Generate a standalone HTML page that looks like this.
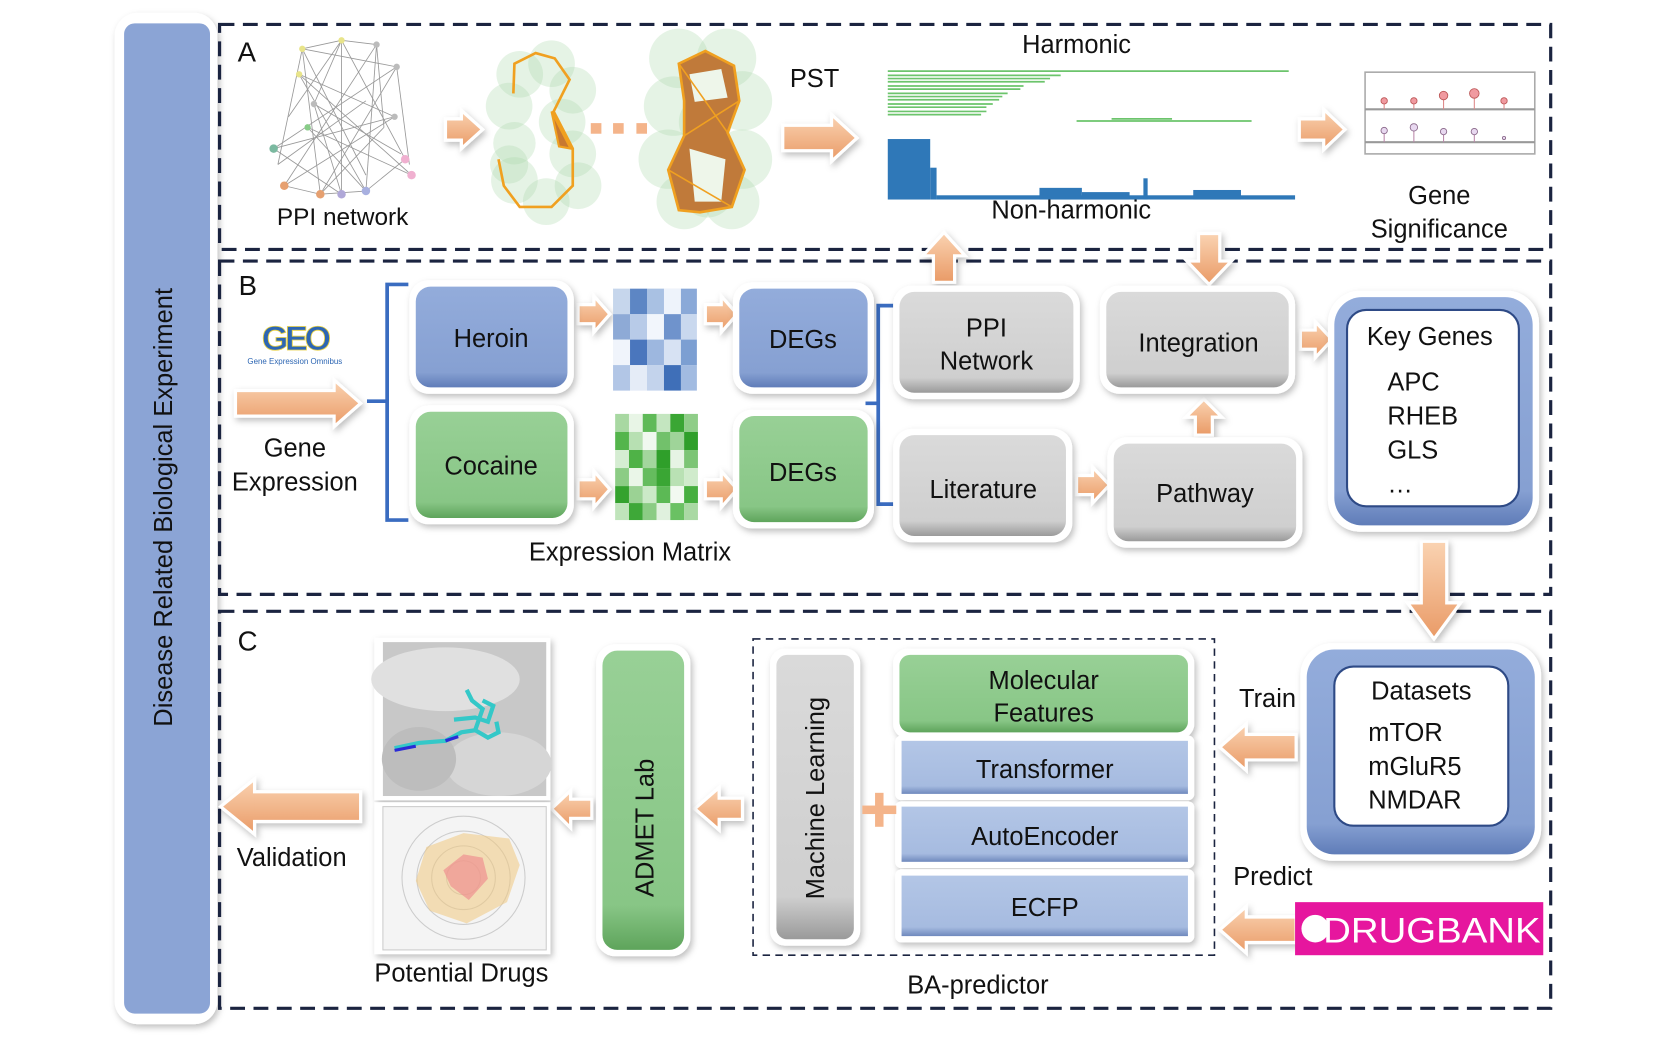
<!DOCTYPE html>
<html><head><meta charset="utf-8"><style>
html,body{margin:0;padding:0;background:#fff;overflow:hidden}
svg{display:block}
text{font-family:"Liberation Sans",Arial,sans-serif;fill:#111}
</style></head><body>
<svg width="1661" height="1038" viewBox="0 0 1566 978" preserveAspectRatio="none" xmlns="http://www.w3.org/2000/svg">
<defs>
<linearGradient id="og" x1="0" y1="0" x2="0" y2="1"><stop offset="0" stop-color="#fad3b2"/><stop offset="1" stop-color="#e99a66"/></linearGradient>
<linearGradient id="bl" x1="0" y1="0" x2="0" y2="1"><stop offset="0" stop-color="#93acdb"/><stop offset="0.85" stop-color="#86a0d2"/><stop offset="1" stop-color="#5f7cb8"/></linearGradient>
<linearGradient id="lb" x1="0" y1="0" x2="0" y2="1"><stop offset="0" stop-color="#b3c6e6"/><stop offset="0.85" stop-color="#a6bbe0"/><stop offset="1" stop-color="#6f89bd"/></linearGradient>
<linearGradient id="gr" x1="0" y1="0" x2="0" y2="1"><stop offset="0" stop-color="#98d096"/><stop offset="0.85" stop-color="#88c686"/><stop offset="1" stop-color="#5ea45b"/></linearGradient>
<linearGradient id="gy" x1="0" y1="0" x2="0" y2="1"><stop offset="0" stop-color="#dadada"/><stop offset="0.85" stop-color="#cfcfcf"/><stop offset="1" stop-color="#9a9a9a"/></linearGradient>
<filter id="sh" x="-10%" y="-10%" width="130%" height="130%"><feDropShadow dx="2" dy="3" stdDeviation="3" flood-color="#000" flood-opacity="0.25"/></filter>
</defs>

<rect x="108" y="12" width="97" height="953" rx="22" fill="#fff" filter="url(#sh)"/>
<rect x="117" y="22" width="81" height="933" rx="10" fill="#8ba4d5"/>
<text transform="translate(162,478) rotate(-90)" text-anchor="middle" font-size="24">Disease Related Biological Experiment</text>

<g fill="none" stroke="#1b2440" stroke-width="3" stroke-dasharray="14 8">
<rect x="207" y="23" width="1255" height="212"/>
<rect x="207" y="246" width="1255" height="314"/>
<rect x="207" y="576" width="1255" height="374"/>
</g>
<rect x="710" y="602" width="435" height="298" fill="none" stroke="#1b2440" stroke-width="1.5" stroke-dasharray="7 5"/>

<text x="224" y="58" font-size="26">A</text>
<g stroke="#999" stroke-width="0.8">
<line x1="285" y1="46" x2="322" y2="38"/><line x1="285" y1="46" x2="374" y2="63"/><line x1="285" y1="46" x2="345" y2="165"/><line x1="285" y1="46" x2="302" y2="183"/><line x1="285" y1="46" x2="262" y2="155"/>
<line x1="322" y1="38" x2="355" y2="42"/><line x1="322" y1="38" x2="272" y2="110"/><line x1="322" y1="38" x2="382" y2="150"/><line x1="322" y1="38" x2="322" y2="183"/><line x1="322" y1="38" x2="296" y2="98"/>
<line x1="355" y1="42" x2="268" y2="175"/><line x1="355" y1="42" x2="362" y2="120"/><line x1="355" y1="42" x2="345" y2="180"/>
<line x1="374" y1="63" x2="258" y2="140"/><line x1="374" y1="63" x2="302" y2="183"/><line x1="374" y1="63" x2="386" y2="155"/>
<line x1="282" y1="70" x2="388" y2="165"/><line x1="282" y1="70" x2="345" y2="180"/><line x1="282" y1="70" x2="372" y2="110"/>
<line x1="296" y1="98" x2="378" y2="145"/><line x1="296" y1="98" x2="322" y2="183"/><line x1="345" y1="95" x2="262" y2="155"/>
<line x1="372" y1="110" x2="258" y2="140"/><line x1="372" y1="110" x2="268" y2="175"/><line x1="362" y1="120" x2="302" y2="183"/>
<line x1="258" y1="140" x2="322" y2="183"/><line x1="268" y1="175" x2="302" y2="183"/><line x1="302" y1="183" x2="345" y2="180"/><line x1="345" y1="180" x2="382" y2="150"/>
<line x1="290" y1="120" x2="388" y2="165"/><line x1="290" y1="120" x2="345" y2="180"/>
</g>
<g>
<circle cx="285" cy="46" r="3" fill="#e8e48a"/><circle cx="322" cy="38" r="3" fill="#e8e48a"/><circle cx="355" cy="42" r="3" fill="#bbb"/><circle cx="374" cy="63" r="3" fill="#bbb"/>
<circle cx="282" cy="70" r="3" fill="#e8e48a"/><circle cx="296" cy="98" r="3" fill="#bbb"/><circle cx="372" cy="110" r="3" fill="#bbb"/><circle cx="290" cy="120" r="3" fill="#8c8"/>
<circle cx="258" cy="140" r="4" fill="#7bb9a0"/><circle cx="268" cy="175" r="4" fill="#e6a070"/><circle cx="302" cy="183" r="4" fill="#e6a070"/><circle cx="322" cy="183" r="4" fill="#b0a8d8"/>
<circle cx="345" cy="180" r="4" fill="#a8b0e0"/><circle cx="382" cy="150" r="4" fill="#f0b0d0"/><circle cx="388" cy="165" r="4" fill="#f0b0d0"/>
</g>
<text x="323" y="212" text-anchor="middle" font-size="23">PPI network</text>

<g fill="#a8d8a8" fill-opacity="0.3">
<circle cx="490" cy="70" r="22"/><circle cx="520" cy="60" r="22"/><circle cx="540" cy="85" r="22"/><circle cx="480" cy="100" r="22"/><circle cx="530" cy="115" r="22"/>
<circle cx="485" cy="135" r="20"/><circle cx="540" cy="145" r="22"/><circle cx="485" cy="170" r="22"/><circle cx="515" cy="190" r="22"/><circle cx="545" cy="175" r="22"/><circle cx="480" cy="155" r="18"/>
</g>
<g fill="none" stroke="#f0a020" stroke-width="2.5">
<polyline points="484,88 485,60 505,50 523,55 537,75 522,105 540,140 540,175 520,195 490,195 475,175 470,150"/>
</g>
<polygon points="520,105 538,140 527,138" fill="#c87830" stroke="#f0a020" stroke-width="2"/>
<g fill="#f4b48a"><rect x="557" y="116" width="10" height="10"/><rect x="578" y="116" width="10" height="10"/><rect x="600" y="116" width="10" height="10"/></g>
<g fill="#a8d8a8" fill-opacity="0.3">
<circle cx="640" cy="55" r="28"/><circle cx="685" cy="55" r="28"/><circle cx="700" cy="95" r="28"/><circle cx="635" cy="100" r="28"/><circle cx="665" cy="115" r="25"/>
<circle cx="630" cy="150" r="28"/><circle cx="700" cy="150" r="28"/><circle cx="645" cy="190" r="26"/><circle cx="690" cy="190" r="26"/><circle cx="667" cy="180" r="25"/>
</g>
<g stroke="#f0a020" stroke-width="2.5" fill="#c07a3a">
<polygon points="640,60 665,48 692,62 697,95 686,125 702,160 690,195 660,200 640,198 630,160 645,128 645,95"/>
</g>
<polygon points="650,70 680,65 686,92 655,96" fill="#eef6ea"/>
<polygon points="650,140 684,150 680,190 655,190" fill="#eef6ea"/>
<g stroke="#f0a020" stroke-width="1.5" fill="none"><line x1="640" y1="60" x2="686" y2="125"/><line x1="645" y1="128" x2="697" y2="95"/><line x1="630" y1="160" x2="690" y2="195"/></g>

<g fill="url(#og)" stroke="#fff" stroke-width="3" filter="url(#sh)">
<polygon points="420,112 435,112 435,104 455,122 435,140 435,132 420,132"/>
<polygon points="738,118 784,118 784,108 808,130 784,152 784,142 738,142"/>
<polygon points="1225,112 1248,112 1248,103 1268,122 1248,141 1248,132 1225,132"/>
<polygon points="222,368 315,368 315,358 340,380 315,402 315,392 222,392"/>
<polygon points="545,287 560,287 560,279 575,296 560,313 560,305 545,305"/>
<polygon points="545,452 560,452 560,444 575,461 560,478 560,470 545,470"/>
<polygon points="665,287 680,287 680,279 695,296 680,313 680,305 665,305"/>
<polygon points="665,452 680,452 680,444 695,461 680,478 680,470 665,470"/>
<polygon points="1015,448 1030,448 1030,440 1046,457 1030,474 1030,466 1015,466"/>
<polygon points="1226,311 1240,311 1240,303 1256,320 1240,337 1240,329 1226,329"/>
<polygon points="880,266 880,241 870,241 890,219 910,241 900,241 900,266"/>
<polygon points="1130,220 1150,220 1150,246 1161,246 1140,268 1119,246 1130,246"/>
<polygon points="1127,410 1127,393 1118,393 1135,376 1152,393 1143,393 1143,410"/>
<polygon points="1340,510 1364,510 1364,568 1377,568 1352,602 1327,568 1340,568"/>
<polygon points="1222,692 1175,692 1175,682 1150,704 1175,726 1175,716 1222,716"/>
<polygon points="1222,864 1175,864 1175,854 1150,876 1175,898 1175,888 1222,888"/>
<polygon points="700,752 678,752 678,742 655,762 678,782 678,772 700,772"/>
<polygon points="558,753 538,753 538,745 520,762 538,780 538,771 558,771"/>
<polygon points="340,746 240,746 240,734 208,760 240,786 240,774 340,774"/>
</g>

<text x="768" y="82" text-anchor="middle" font-size="24">PST</text>
<text x="1015" y="50" text-anchor="middle" font-size="24">Harmonic</text>
<g stroke="#6cc46c" stroke-width="1.6">
<line x1="837" y1="67" x2="1215" y2="67"/>
<line x1="837" y1="71" x2="1000" y2="71"/><line x1="837" y1="74" x2="990" y2="74"/><line x1="837" y1="77" x2="985" y2="77"/>
<line x1="837" y1="81" x2="965" y2="81"/><line x1="837" y1="84" x2="962" y2="84"/><line x1="837" y1="88" x2="950" y2="88"/>
<line x1="837" y1="91" x2="945" y2="91"/><line x1="837" y1="94" x2="942" y2="94"/><line x1="837" y1="98" x2="936" y2="98"/>
<line x1="837" y1="101" x2="930" y2="101"/><line x1="837" y1="105" x2="930" y2="105"/><line x1="837" y1="108" x2="925" y2="108"/>
<line x1="1015" y1="114" x2="1180" y2="114"/><line x1="1048" y1="112" x2="1105" y2="112"/>
</g>
<g fill="#2f78b8">
<rect x="837" y="131" width="40" height="57"/><rect x="877" y="158" width="6" height="30"/>
<rect x="883" y="184" width="338" height="4"/><rect x="980" y="177" width="40" height="11"/><rect x="1020" y="181" width="45" height="7"/>
<rect x="1078" y="168" width="4" height="20"/><rect x="1125" y="179" width="45" height="9"/>
</g>
<text x="1010" y="206" text-anchor="middle" font-size="24">Non-harmonic</text>

<rect x="1287" y="68" width="160" height="77" fill="#fff" stroke="#aaa" stroke-width="1.5"/>
<line x1="1287" y1="103" x2="1447" y2="103" stroke="#999" stroke-width="2"/>
<line x1="1287" y1="134" x2="1447" y2="134" stroke="#999" stroke-width="2"/>
<g stroke="#d88" stroke-width="1"><line x1="1305" y1="95" x2="1305" y2="103"/><line x1="1333" y1="95" x2="1333" y2="103"/><line x1="1361" y1="90" x2="1361" y2="103"/><line x1="1390" y1="88" x2="1390" y2="103"/><line x1="1418" y1="95" x2="1418" y2="103"/></g>
<g fill="#f09aa0" stroke="#b55" stroke-width="0.8"><circle cx="1305" cy="95" r="3"/><circle cx="1333" cy="95" r="3"/><circle cx="1361" cy="90" r="4"/><circle cx="1390" cy="88" r="4.5"/><circle cx="1418" cy="95" r="3"/></g>
<g stroke="#b8a" stroke-width="1"><line x1="1305" y1="123" x2="1305" y2="134"/><line x1="1333" y1="120" x2="1333" y2="134"/><line x1="1361" y1="124" x2="1361" y2="134"/><line x1="1390" y1="124" x2="1390" y2="134"/></g>
<g fill="#e8d8f0" stroke="#868" stroke-width="0.8"><circle cx="1305" cy="123" r="3"/><circle cx="1333" cy="120" r="3.5"/><circle cx="1361" cy="124" r="3"/><circle cx="1390" cy="124" r="3"/><circle cx="1418" cy="130" r="1.5"/></g>
<text x="1357" y="192" text-anchor="middle" font-size="24">Gene</text>
<text x="1357" y="224" text-anchor="middle" font-size="24">Significance</text>

<text x="225" y="278" font-size="26">B</text>
<text x="278" y="330" text-anchor="middle" font-size="32" font-weight="bold" style="fill:#2d66b3" stroke="#e8d040" stroke-width="0.8" letter-spacing="-3">GEO</text>
<text x="278" y="343" text-anchor="middle" font-size="7.5" style="fill:#2d66b3">Gene Expression Omnibus</text>
<text x="278" y="430" text-anchor="middle" font-size="24">Gene</text>
<text x="278" y="462" text-anchor="middle" font-size="24">Expression</text>
<path d="M385,268 L365,268 L365,378 L346,378 L365,378 L365,490 L385,490" fill="none" stroke="#3a6cc0" stroke-width="3.5"/>
<path d="M845,288 L828,288 L828,380 L816,380 L828,380 L828,475 L845,475" fill="none" stroke="#3a6cc0" stroke-width="3.5"/>

<g filter="url(#sh)">
<rect x="386" y="264" width="155" height="107" rx="18" fill="#fff"/>
<rect x="386" y="382" width="155" height="112" rx="18" fill="#fff"/>
<rect x="691" y="266" width="133" height="105" rx="18" fill="#fff"/>
<rect x="691" y="386" width="133" height="112" rx="18" fill="#fff"/>
<rect x="842" y="269" width="176" height="107" rx="18" fill="#fff"/>
<rect x="842" y="404" width="169" height="107" rx="18" fill="#fff"/>
<rect x="1037" y="269" width="184" height="102" rx="18" fill="#fff"/>
<rect x="1044" y="412" width="184" height="104" rx="18" fill="#fff"/>
<rect x="1252" y="274" width="199" height="227" rx="30" fill="#fff"/>
<rect x="1226" y="606" width="227" height="205" rx="30" fill="#fff"/>
<rect x="842" y="611" width="284" height="85" rx="14" fill="#fff"/>
<rect x="844" y="693" width="282" height="61" rx="6" fill="#fff"/>
<rect x="844" y="755" width="282" height="63" rx="6" fill="#fff"/>
<rect x="844" y="819" width="282" height="69" rx="6" fill="#fff"/>
<rect x="726" y="611" width="85" height="280" rx="14" fill="#fff"/>
<rect x="562" y="607" width="89" height="294" rx="18" fill="#fff"/>
<rect x="353" y="601" width="166" height="153" fill="#fff"/>
<rect x="353" y="756" width="166" height="143" fill="#fff"/>
</g>
<rect x="392" y="270" width="143" height="95" rx="14" fill="url(#bl)"/>
<rect x="392" y="388" width="143" height="100" rx="14" fill="url(#gr)"/>
<rect x="697" y="272" width="121" height="93" rx="14" fill="url(#bl)"/>
<rect x="697" y="392" width="121" height="100" rx="14" fill="url(#gr)"/>
<rect x="848" y="275" width="164" height="95" rx="14" fill="url(#gy)"/>
<rect x="848" y="410" width="157" height="95" rx="14" fill="url(#gy)"/>
<rect x="1043" y="275" width="172" height="90" rx="14" fill="url(#gy)"/>
<rect x="1050" y="418" width="172" height="92" rx="14" fill="url(#gy)"/>
<rect x="1258" y="280" width="187" height="215" rx="26" fill="url(#bl)"/>
<rect x="1270" y="292" width="162" height="185" rx="18" fill="#fff" stroke="#2e4a86" stroke-width="2"/>
<text x="463" y="327" text-anchor="middle" font-size="24">Heroin</text>
<text x="463" y="447" text-anchor="middle" font-size="24">Cocaine</text>
<text x="757" y="328" text-anchor="middle" font-size="24">DEGs</text>
<text x="757" y="453" text-anchor="middle" font-size="24">DEGs</text>
<text x="930" y="317" text-anchor="middle" font-size="24">PPI</text>
<text x="930" y="348" text-anchor="middle" font-size="24">Network</text>
<text x="927" y="469" text-anchor="middle" font-size="24">Literature</text>
<text x="1130" y="331" text-anchor="middle" font-size="24">Integration</text>
<text x="1136" y="473" text-anchor="middle" font-size="24">Pathway</text>
<text x="1348" y="325" text-anchor="middle" font-size="24">Key Genes</text>
<text x="1308" y="368" font-size="24">APC</text>
<text x="1308" y="400" font-size="24">RHEB</text>
<text x="1308" y="432" font-size="24">GLS</text>
<text x="1308" y="464" font-size="24">…</text>

<g>
<rect x="578" y="272" width="79" height="96" fill="#dfe8f5"/>
<rect x="578" y="272" width="16" height="24" fill="#c6d6ec"/><rect x="594" y="272" width="16" height="24" fill="#5d86c4"/><rect x="610" y="272" width="16" height="24" fill="#a9c1e3"/><rect x="626" y="272" width="16" height="24" fill="#eef3fb"/><rect x="642" y="272" width="15" height="24" fill="#8aa9d8"/>
<rect x="578" y="296" width="16" height="24" fill="#8eaad6"/><rect x="594" y="296" width="16" height="24" fill="#b8cbe8"/><rect x="610" y="296" width="16" height="24" fill="#f2f6fc"/><rect x="626" y="296" width="16" height="24" fill="#6f93cc"/><rect x="642" y="296" width="15" height="24" fill="#c9d8ee"/>
<rect x="578" y="320" width="16" height="24" fill="#f0f4fb"/><rect x="594" y="320" width="16" height="24" fill="#4a76bd"/><rect x="610" y="320" width="16" height="24" fill="#9db7df"/><rect x="626" y="320" width="16" height="24" fill="#d7e2f3"/><rect x="642" y="320" width="15" height="24" fill="#7c9fd2"/>
<rect x="578" y="344" width="16" height="24" fill="#b2c6e6"/><rect x="594" y="344" width="16" height="24" fill="#e5ecf7"/><rect x="610" y="344" width="16" height="24" fill="#c3d3ec"/><rect x="626" y="344" width="16" height="24" fill="#3f6fb8"/><rect x="642" y="344" width="15" height="24" fill="#a2bbe1"/>
</g>
<g>
<rect x="580" y="390" width="78" height="100" fill="#e4f2e2"/>
<rect x="580" y="390" width="13" height="17" fill="#a8d8a2"/><rect x="593" y="390" width="13" height="17" fill="#e8f5e6"/><rect x="606" y="390" width="13" height="17" fill="#5fba58"/><rect x="619" y="390" width="13" height="17" fill="#c4e6c0"/><rect x="632" y="390" width="13" height="17" fill="#3aa634"/><rect x="645" y="390" width="13" height="17" fill="#8fcd88"/>
<rect x="580" y="407" width="13" height="17" fill="#54b54c"/><rect x="593" y="407" width="13" height="17" fill="#b7e0b2"/><rect x="606" y="407" width="13" height="17" fill="#f0f8ef"/><rect x="619" y="407" width="13" height="17" fill="#72c16b"/><rect x="632" y="407" width="13" height="17" fill="#9fd499"/><rect x="645" y="407" width="13" height="17" fill="#2f9f2a"/>
<rect x="580" y="424" width="13" height="17" fill="#d5edd2"/><rect x="593" y="424" width="13" height="17" fill="#4fb247"/><rect x="606" y="424" width="13" height="17" fill="#a3d69d"/><rect x="619" y="424" width="13" height="17" fill="#2f9f2a"/><rect x="632" y="424" width="13" height="17" fill="#e6f4e4"/><rect x="645" y="424" width="13" height="17" fill="#7cc575"/>
<rect x="580" y="441" width="13" height="17" fill="#8ccc85"/><rect x="593" y="441" width="13" height="17" fill="#eaf6e8"/><rect x="606" y="441" width="13" height="17" fill="#65bc5e"/><rect x="619" y="441" width="13" height="17" fill="#3aa634"/><rect x="632" y="441" width="13" height="17" fill="#b9e1b4"/><rect x="645" y="441" width="13" height="17" fill="#d0ebcc"/>
<rect x="580" y="458" width="13" height="16" fill="#34a22e"/><rect x="593" y="458" width="13" height="16" fill="#9bd294"/><rect x="606" y="458" width="13" height="16" fill="#cbe9c7"/><rect x="619" y="458" width="13" height="16" fill="#5cb955"/><rect x="632" y="458" width="13" height="16" fill="#f2f9f1"/><rect x="645" y="458" width="13" height="16" fill="#47af40"/>
<rect x="580" y="474" width="13" height="16" fill="#c0e4bb"/><rect x="593" y="474" width="13" height="16" fill="#3ea838"/><rect x="606" y="474" width="13" height="16" fill="#8bcc84"/><rect x="619" y="474" width="13" height="16" fill="#e0f1de"/><rect x="632" y="474" width="13" height="16" fill="#6ac163"/><rect x="645" y="474" width="13" height="16" fill="#a9d9a3"/>
</g>
<text x="594" y="528" text-anchor="middle" font-size="24">Expression Matrix</text>

<text x="224" y="613" font-size="26">C</text>
<rect x="1232" y="612" width="215" height="193" rx="26" fill="url(#bl)"/>
<rect x="1258" y="628" width="164" height="150" rx="18" fill="#fff" stroke="#2e4a86" stroke-width="2"/>
<text x="1340" y="659" text-anchor="middle" font-size="24">Datasets</text>
<text x="1290" y="698" font-size="24">mTOR</text>
<text x="1290" y="730" font-size="24">mGluR5</text>
<text x="1290" y="762" font-size="24">NMDAR</text>
<text x="1195" y="666" text-anchor="middle" font-size="24">Train</text>
<text x="1200" y="834" text-anchor="middle" font-size="24">Predict</text>
<rect x="1221" y="850" width="234" height="50" fill="#e6169e"/>
<text x="1350" y="888" text-anchor="middle" font-size="33" style="fill:#fff" textLength="205" lengthAdjust="spacingAndGlyphs">DRUGBANK</text>
<rect x="1227" y="862" width="26" height="26" rx="13" fill="#fff"/>
<rect x="848" y="617" width="272" height="73" rx="10" fill="url(#gr)"/>
<rect x="850" y="698" width="270" height="50" fill="url(#lb)"/>
<rect x="850" y="760" width="270" height="52" fill="url(#lb)"/>
<rect x="850" y="825" width="270" height="57" fill="url(#lb)"/>
<text x="984" y="649" text-anchor="middle" font-size="24">Molecular</text>
<text x="984" y="680" text-anchor="middle" font-size="24">Features</text>
<text x="985" y="733" text-anchor="middle" font-size="24">Transformer</text>
<text x="985" y="796" text-anchor="middle" font-size="24">AutoEncoder</text>
<text x="985" y="863" text-anchor="middle" font-size="24">ECFP</text>
<rect x="732" y="617" width="73" height="268" rx="10" fill="url(#gy)"/>
<text transform="translate(777,752) rotate(-90)" text-anchor="middle" font-size="24">Machine Learning</text>
<g fill="#f4b48a"><rect x="813" y="759" width="32" height="8"/><rect x="825" y="747" width="8" height="32"/></g>
<rect x="568" y="613" width="77" height="282" rx="14" fill="url(#gr)"/>
<text transform="translate(616,780) rotate(-90)" text-anchor="middle" font-size="24">ADMET Lab</text>
<text x="922" y="936" text-anchor="middle" font-size="24">BA-predictor</text>

<rect x="361" y="605" width="154" height="145" fill="#c8c8c8"/>
<ellipse cx="420" cy="640" rx="70" ry="30" fill="#e0e0e0"/><ellipse cx="470" cy="720" rx="50" ry="30" fill="#d6d6d6"/><ellipse cx="395" cy="715" rx="35" ry="30" fill="#bdbdbd"/>
<g stroke="#34c8c8" stroke-width="4" fill="none"><polyline points="372,705 395,700 420,698 435,690 448,688 455,668 445,660 440,650"/><polyline points="428,678 448,676 460,680 465,665 455,660"/><polyline points="448,688 460,695 470,690 468,680"/></g>
<g stroke="#2b2bd6" stroke-width="3" fill="none"><line x1="372" y1="707" x2="392" y2="703"/><line x1="420" y1="698" x2="432" y2="694"/></g>
<rect x="361" y="760" width="154" height="135" fill="#f4f4f4" stroke="#ccc"/>
<g fill="none" stroke="#ccc"><circle cx="437" cy="827" r="58"/><circle cx="437" cy="827" r="44"/><circle cx="437" cy="827" r="30"/><circle cx="437" cy="827" r="16"/></g>
<polygon points="437,785 480,790 490,815 478,850 440,870 405,858 392,830 402,798" fill="#f0c880" fill-opacity="0.55"/>
<polygon points="437,805 455,808 460,828 442,848 425,835 418,820" fill="#f09090" fill-opacity="0.7"/>
<text x="435" y="925" text-anchor="middle" font-size="24">Potential Drugs</text>
<text x="275" y="816" text-anchor="middle" font-size="24">Validation</text>
</svg>
</body></html>
